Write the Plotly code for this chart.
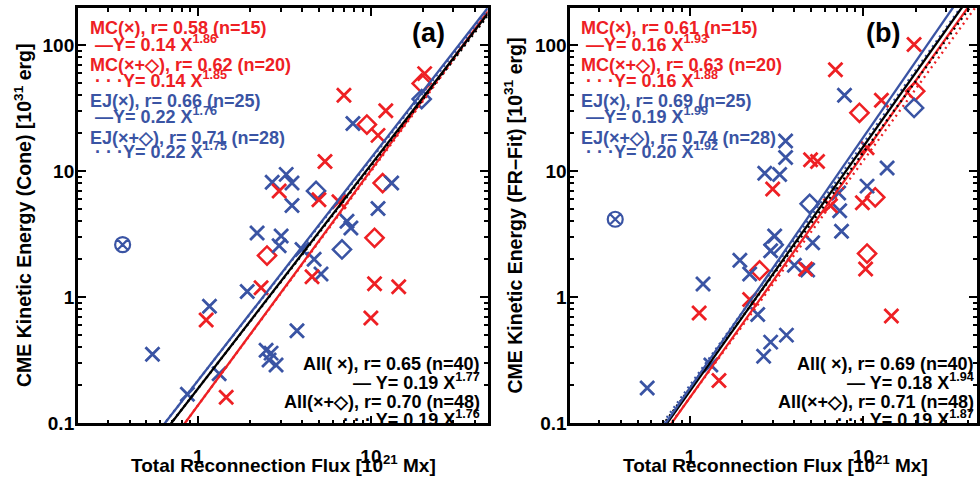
import numpy as np
import plotly.graph_objects as go

# ---------------- data ----------------
# Panel (a): Cone kinetic energy vs reconnection flux
a_mc_x_flux = [6.98, 12.2, 11.0, 5.42, 20.5, 2.94, 5.0, 6.53, 10.5, 14.5, 10.0, 4.56, 2.31, 1.11, 1.45]
a_mc_x_ek = [40.0, 30.1, 19.2, 11.9, 59.3, 6.96, 5.93, 5.72, 1.28, 1.21, 0.684, 1.45, 1.19, 0.66, 0.161]
a_mc_d_flux = [9.48, 19.7, 11.7, 10.5, 2.5]
a_mc_d_ek = [23.4, 49.6, 8.03, 2.96, 2.14]
a_ej_x_flux = [7.87, 2.68, 3.23, 3.49, 3.49, 13.2, 11.0, 7.27, 7.66, 2.19, 3.02, 2.94, 3.99,
               4.69, 5.14, 1.92, 1.16, 3.73, 2.47, 2.64, 2.57, 2.82, 1.32, 0.864, 0.542]
a_ej_x_ek = [23.9, 8.17, 9.42, 8.03, 5.33, 8.03, 5.05, 4.0, 3.53, 3.23, 3.06, 2.56, 2.39,
             2.0, 1.53, 1.11, 0.847, 0.542, 0.379, 0.36, 0.318, 0.29, 0.247, 0.17, 0.353]
a_ej_d_flux = [19.7, 4.81, 6.8]
a_ej_d_ek = [37.3, 6.96, 2.39]
a_circ_flux = [0.364]
a_circ_ek = [2.61]

# Panel (b): FR-Fit kinetic energy vs reconnection flux
b_mc_x_flux = [6.9, 19.6, 12.7, 10.5, 3.0, 4.96, 5.44, 9.87, 6.46, 10.3, 4.64, 14.5, 1.13, 1.47, 2.21]
b_mc_x_ek = [63.7, 101, 36.5, 15.3, 7.2, 12.3, 11.9, 5.6, 5.3, 1.67, 1.67, 0.71, 0.75, 0.218, 0.96]
b_mc_d_flux = [19.9, 9.49, 11.7, 10.5, 2.52]
b_mc_d_ek = [43, 29, 6.2, 2.22, 1.63]
b_ej_x_flux = [7.78, 3.56, 3.56, 2.7, 3.29, 13.7, 10.5, 7.3, 7.48, 3.08, 2.92, 1.94, 2.21, 4.0,
               4.77, 5.1, 1.19, 0.567, 2.46, 2.66, 2.92, 3.6, 1.32, 7.2]
b_ej_x_ek = [40, 17.3, 12.8, 9.6, 9.4, 10.6, 7.6, 4.85, 3.33, 3.06, 2.33, 1.96, 1.53, 1.79,
             1.64, 2.7, 1.27, 0.19, 0.73, 0.34, 0.44, 0.50, 0.29, 6.7]
b_ej_d_flux = [19.6, 4.9, 3.04]
b_ej_d_ek = [31.7, 5.5, 2.6]
b_circ_flux = [0.371]
b_circ_ek = [4.15]

# Fit statistics: order MC(x), MC(x+d), EJ(x), EJ(x+d), All(x), All(x+d)
fit_groups = ["MC(×)", "MC(×+◇)", "EJ(×)", "EJ(×+◇)", "All( ×)", "All(×+◇)"]
a_r = [0.58, 0.62, 0.66, 0.71, 0.65, 0.70]
a_n = [15, 20, 25, 28, 40, 48]
a_coef = [0.14, 0.14, 0.22, 0.22, 0.19, 0.19]
a_exp = [1.86, 1.85, 1.76, 1.75, 1.77, 1.76]
b_r = [0.61, 0.63, 0.69, 0.74, 0.69, 0.71]
b_n = [15, 20, 25, 28, 40, 48]
b_coef = [0.16, 0.16, 0.19, 0.20, 0.18, 0.19]
b_exp = [1.93, 1.88, 1.99, 1.92, 1.94, 1.87]

y_tickvals = [0.1, 1, 10, 100]
y_ticktext = ["0.1", "1", "10", "100"]
x_tickvals = [1, 10]
x_ticktext = ["1", "10"]

# ---------------- style ----------------
RED = "#EE2024"
BLUE = "#3A54A4"
BLACK = "#000000"
FONT = "Liberation Sans"
W, H = 980, 489

fig = go.Figure()

def add_panel(xa, ya, mcx, mcy, mdx, mdy, ejx, ejy, edx, edy, cx, cy, coef, expo):
    kw = dict(xaxis=xa, yaxis=ya, showlegend=False, hoverinfo="skip")
    fig.add_trace(go.Scatter(x=mdx, y=mdy, mode="markers",
                             marker=dict(symbol="diamond-open", size=14, color=RED,
                                         line=dict(width=2.5, color=RED)), **kw))
    fig.add_trace(go.Scatter(x=edx, y=edy, mode="markers",
                             marker=dict(symbol="diamond-open", size=14, color=BLUE,
                                         line=dict(width=2.5, color=BLUE)), **kw))
    fig.add_trace(go.Scatter(x=ejx, y=ejy, mode="markers",
                             marker=dict(symbol="x-thin", size=14, color=BLUE,
                                         line=dict(width=2.8, color=BLUE)), **kw))
    fig.add_trace(go.Scatter(x=mcx, y=mcy, mode="markers",
                             marker=dict(symbol="x-thin", size=14, color=RED,
                                         line=dict(width=2.8, color=RED)), **kw))
    fig.add_trace(go.Scatter(x=cx, y=cy, mode="markers",
                             marker=dict(symbol="circle-x-open", size=15, color=BLUE,
                                         line=dict(width=2.2, color=BLUE)), **kw))
    xx = np.array([0.1, 100.0])
    colors = [RED, RED, BLUE, BLUE, BLACK, BLACK]
    dashes = ["solid", "2px,4px", "solid", "2px,4px", "solid", "2px,4px"]
    order = [1, 0, 3, 5, 4, 2]
    for i in order:
        fig.add_trace(go.Scatter(x=xx, y=coef[i] * xx ** expo[i], mode="lines",
                                 line=dict(color=colors[i], width=2.3, dash=dashes[i]), **kw))

add_panel("x", "y", a_mc_x_flux, a_mc_x_ek, a_mc_d_flux, a_mc_d_ek, a_ej_x_flux, a_ej_x_ek,
          a_ej_d_flux, a_ej_d_ek, a_circ_flux, a_circ_ek, a_coef, a_exp)
add_panel("x2", "y2", b_mc_x_flux, b_mc_x_ek, b_mc_d_flux, b_mc_d_ek, b_ej_x_flux, b_ej_x_ek,
          b_ej_d_flux, b_ej_d_ek, b_circ_flux, b_circ_ek, b_coef, b_exp)

minor_x = [0.2, 0.3, 0.4, 0.5, 0.6, 0.7, 0.8, 0.9, 2, 3, 4, 5, 6, 7, 8, 9, 20, 30, 40]
minor_y = [0.2, 0.3, 0.4, 0.5, 0.6, 0.7, 0.8, 0.9, 2, 3, 4, 5, 6, 7, 8, 9,
           20, 30, 40, 50, 60, 70, 80, 90, 200]

def axis_common(tickvals, ticktext, minor_vals, rng, domain, anchor, standoff):
    return dict(type="log", range=rng, domain=domain, anchor=anchor,
                showline=True, linewidth=2.5, linecolor=BLACK, mirror="allticks",
                ticks="inside", ticklen=8, tickwidth=2, tickcolor=BLACK,
                tickvals=tickvals, ticktext=ticktext, ticklabelstandoff=standoff,
                tickfont=dict(family=FONT, size=19, color=BLACK, weight="bold"),
                minor=dict(ticks="inside", ticklen=4, tickwidth=1.5, tickcolor=BLACK,
                           tickvals=minor_vals, showgrid=False),
                showgrid=False, zeroline=False)

yr = [-1, 2.295]
fig.update_layout(
    width=W, height=H, margin=dict(l=0, r=0, t=0, b=0),
    paper_bgcolor="white", plot_bgcolor="white",
    xaxis=axis_common(x_tickvals, x_ticktext, minor_x, [np.log10(0.2), 1.676],
                      [78 / W, 489 / W], "y", 14),
    yaxis=axis_common(y_tickvals, y_ticktext, minor_y, yr, [1 - 433 / H, 1 - 8 / H], "x", -3),
    xaxis2=axis_common(x_tickvals, x_ticktext, minor_x, [-0.69, 1.655],
                       [572 / W, 1.0], "y2", 14),
    yaxis2=axis_common(y_tickvals, y_ticktext, minor_y, yr, [1 - 433 / H, 1 - 8 / H], "x2", -3),
)

annots = []

def txt(x, y, s, color, size=18, xanchor="left", yanchor="bottom", angle=0):
    annots.append(dict(x=x / W, y=1 - y / H, xref="paper", yref="paper", text=s,
                       showarrow=False, xanchor=xanchor, yanchor=yanchor, textangle=angle,
                       font=dict(family=FONT, size=size, color=color, weight="bold"),
                       borderpad=0))

def legend_block(x0, r, n, coef, expo, xr):
    cols = [RED, RED, BLUE, BLUE]
    ys = [40, 57, 78, 94, 115, 131, 152, 167]
    for k in range(4):
        lead = "—" if k % 2 == 0 else "· · ·"
        txt(x0, ys[2 * k], f"{fit_groups[k]}, r= {r[k]:.2f} (n={n[k]})", cols[k])
        txt(x0 + 5, ys[2 * k + 1], f"{lead}Y= {coef[k]:.2f} X<sup>{expo[k]:.2f}</sup>", cols[k])
    yb = [384, 403, 423, 441]
    for j, k in enumerate([4, 5]):
        lead = "—" if j == 0 else "· · ·"
        txt(xr, yb[2 * j], f"{fit_groups[k]}, r= {r[k]:.2f} (n={n[k]})", BLACK, xanchor="right")
        txt(xr, yb[2 * j + 1], f"{lead} Y= {coef[k]:.2f} X<sup>{expo[k]:.2f}</sup>", BLACK,
            xanchor="right")

legend_block(89, a_r, a_n, a_coef, a_exp, 482)
legend_block(582, b_r, b_n, b_coef, b_exp, 978)

txt(430, 34, "(a)", BLACK, size=27, xanchor="center", yanchor="middle")
txt(886, 34, "(b)", BLACK, size=27, xanchor="center", yanchor="middle")

txt(23, 220, "CME Kinetic Energy (Cone) [10<sup>31</sup> erg]", BLACK, size=19.5,
    xanchor="center", yanchor="middle", angle=-90)
txt(515, 220, "CME Kinetic Energy (FR−Fit) [10<sup>31</sup> erg]", BLACK, size=19.5,
    xanchor="center", yanchor="middle", angle=-90)
txt(284, 488, "Total Reconnection Flux [10<sup>21</sup> Mx]", BLACK, size=19,
    xanchor="center", yanchor="bottom")
txt(778, 488, "Total Reconnection Flux [10<sup>21</sup> Mx]", BLACK, size=19,
    xanchor="center", yanchor="bottom")

fig.update_layout(annotations=annots)
fig.write_html("out.html", config={"displayModeBar": False},
               post_script="document.body.style.margin='0';document.body.style.overflow='hidden';")
